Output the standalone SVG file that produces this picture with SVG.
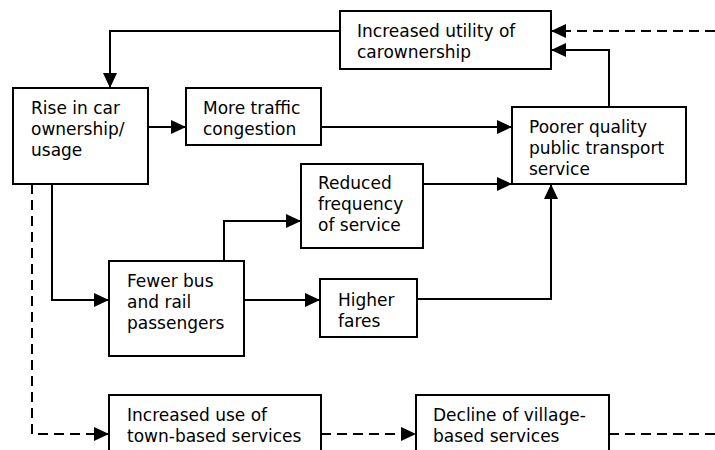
<svg xmlns="http://www.w3.org/2000/svg" width="715" height="450" viewBox="0 0 715 450">
<style>
.box{fill:#fff;stroke:#000;stroke-width:2}
.t{font-family:"DejaVu Sans",Verdana,sans-serif;font-size:17px;fill:#000}
.c{fill:none;stroke:#000;stroke-width:2}
.d{stroke-dasharray:10,6}
</style>
<defs>
<marker id="ah" viewBox="0 0 15 14" refX="15" refY="7" markerWidth="15" markerHeight="14" markerUnits="userSpaceOnUse" orient="auto">
<path d="M0,0 L15,7 L0,14 Z" fill="#000"/>
</marker>
</defs>
<rect width="715" height="450" fill="#fff"/>
<g id="connectors">
<path class="c" d="M340,31 H110 V88" marker-end="url(#ah)"/>
<path class="c" d="M148,127 H186" marker-end="url(#ah)"/>
<path class="c" d="M321,127 H512" marker-end="url(#ah)"/>
<path class="c" d="M609,107 V50 H551" marker-end="url(#ah)"/>
<path class="c d" d="M715,31 H551" marker-end="url(#ah)"/>
<path class="c" d="M423,184 H512" marker-end="url(#ah)"/>
<path class="c" d="M224,260 V221 H301" marker-end="url(#ah)"/>
<path class="c" d="M52,184 V300 H109" marker-end="url(#ah)"/>
<path class="c" d="M244,300 H320" marker-end="url(#ah)"/>
<path class="c" d="M417,299 H551 V184" marker-end="url(#ah)"/>
<path class="c d" d="M32,184 V434 H109" marker-end="url(#ah)"/>
<path class="c d" d="M321,434 H416" marker-end="url(#ah)"/>
<path class="c d" d="M609,434 H715"/>
</g>
<g id="utility">
<rect class="box" x="340" y="11" width="211" height="58"/>
<text class="t" x="357" y="37">Increased utility of</text>
<text class="t" x="357" y="58">carownership</text>
</g>
<g id="rise">
<rect class="box" x="13" y="88" width="135" height="96"/>
<text class="t" x="31" y="114">Rise in car</text>
<text class="t" x="31" y="135">ownership/</text>
<text class="t" x="31" y="156">usage</text>
</g>
<g id="congestion">
<rect class="box" x="186" y="88" width="135" height="57"/>
<text class="t" x="203" y="114">More traffic</text>
<text class="t" x="203" y="135">congestion</text>
</g>
<g id="poorer">
<rect class="box" x="512" y="107" width="174" height="77"/>
<text class="t" x="529" y="133">Poorer quality</text>
<text class="t" x="529" y="154">public transport</text>
<text class="t" x="529" y="175">service</text>
</g>
<g id="reduced">
<rect class="box" x="301" y="164" width="122" height="84"/>
<text class="t" x="318" y="189">Reduced</text>
<text class="t" x="318" y="210">frequency</text>
<text class="t" x="318" y="231">of service</text>
</g>
<g id="fewer">
<rect class="box" x="109" y="261" width="135" height="95"/>
<text class="t" x="127" y="287">Fewer bus</text>
<text class="t" x="127" y="308">and rail</text>
<text class="t" x="127" y="329">passengers</text>
</g>
<g id="fares">
<rect class="box" x="320" y="279" width="97" height="58"/>
<text class="t" x="338" y="306">Higher</text>
<text class="t" x="338" y="327">fares</text>
</g>
<g id="town">
<rect class="box" x="109" y="395" width="212" height="70"/>
<text class="t" x="127" y="421">Increased use of</text>
<text class="t" x="127" y="442">town-based services</text>
</g>
<g id="village">
<rect class="box" x="416" y="395" width="193" height="70"/>
<text class="t" x="433" y="421">Decline of village-</text>
<text class="t" x="433" y="442">based services</text>
</g>
</svg>
